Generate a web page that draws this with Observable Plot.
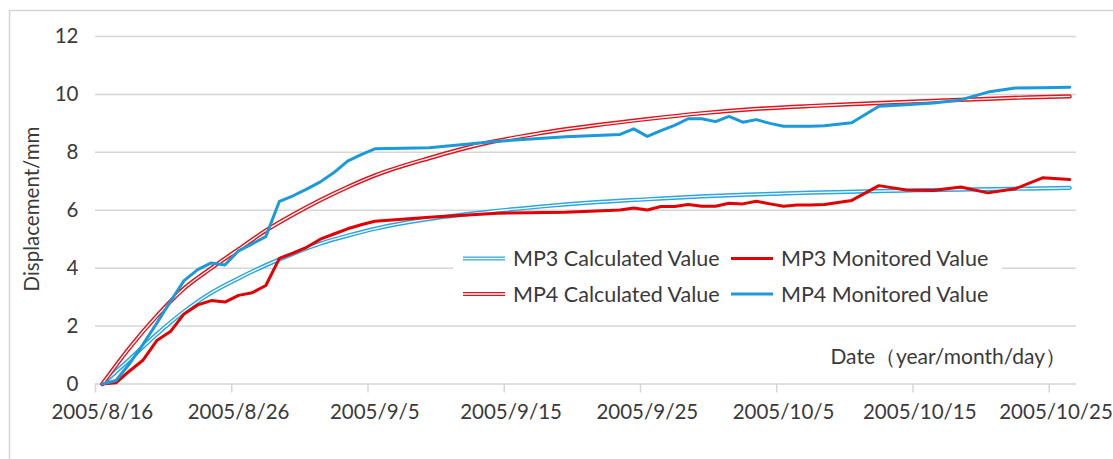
<!DOCTYPE html>
<html><head><meta charset="utf-8">
<script src="https://cdn.jsdelivr.net/npm/d3@7"></script>
<script src="https://cdn.jsdelivr.net/npm/@observablehq/plot@0.6"></script>
<style>body{margin:0;background:#fff;overflow:hidden}svg{font-family:Lato,sans-serif}</style>
</head><body><div id="chart"></div>
<script>
// ---- data ----
const monitoredDates = ["8/16","8/17","8/18","8/19","8/20","8/21","8/22","8/23","8/24","8/25","8/26","8/27","8/28","8/29","8/30","8/31","9/1","9/2","9/3","9/4","9/5",
  "9/9","9/14","9/19","9/23","9/24","9/25","9/26","9/27","9/28","9/29","9/30","10/1","10/2","10/3","10/4","10/5","10/6","10/7","10/8",
  "10/10","10/12","10/14","10/16","10/18","10/20","10/22","10/24","10/26"];
const mp3Monitored = [0,0.04,0.45,0.83,1.5,1.81,2.42,2.73,2.88,2.83,3.06,3.15,3.4,4.34,4.52,4.72,5.0,5.18,5.36,5.5,5.62,
  5.76,5.9,5.93,6.01,6.08,6.01,6.13,6.13,6.2,6.14,6.14,6.24,6.22,6.31,6.22,6.14,6.18,6.18,6.2,
  6.34,6.85,6.7,6.68,6.8,6.6,6.74,7.12,7.06];
const mp4Monitored = [0,0.12,0.7,1.38,2.1,2.85,3.57,3.95,4.18,4.11,4.6,4.84,5.09,6.31,6.5,6.73,6.98,7.3,7.7,7.92,8.12,
  8.16,8.38,8.54,8.62,8.81,8.55,8.75,8.93,9.16,9.16,9.06,9.24,9.04,9.13,9.0,8.9,8.9,8.9,8.92,
  9.02,9.59,9.64,9.7,9.81,10.08,10.22,10.23,10.25];
const calcDates = ["8/16","8/18","8/20","8/22","8/24","8/26","8/28","8/30","9/1","9/3","9/5","9/9","9/13","9/17","9/21","9/25","9/29","10/3","10/7","10/11","10/15","10/19","10/23","10/26"];
const mp3Calculated = [0,0.85,1.72,2.5,3.15,3.65,4.1,4.5,4.85,5.12,5.36,5.7,5.93,6.12,6.27,6.38,6.48,6.55,6.61,6.65,6.69,6.72,6.75,6.77];
const mp4Calculated = [0,1.25,2.35,3.3,4.0,4.65,5.3,5.85,6.35,6.8,7.2,7.8,8.3,8.65,8.92,9.15,9.35,9.5,9.6,9.68,9.76,9.83,9.9,9.93];
const xTickDates = ["8/16","8/26","9/5","9/15","9/25","10/5","10/15","10/25"];
const yTicks = [0,2,4,6,8,10,12];
const seriesNames = ["MP3 Calculated Value","MP3 Monitored Value","MP4 Calculated Value","MP4 Monitored Value"];
const yLabel = "Displacement/mm";
const xLabel = "Date（year/month/day）";
const YEAR = 2005;

// ---- helpers ----
const parse = s => { const [m, d] = s.split("/").map(Number); return new Date(Date.UTC(YEAR, m - 1, d)); };
const HALF = 12 * 3600e3;
const shift = (dt, ms) => new Date(dt.getTime() + ms);
const fmt = dt => `${dt.getUTCFullYear()}/${dt.getUTCMonth() + 1}/${dt.getUTCDate()}`;
const toRows = (dates, vals) => dates.map((d, i) => ({date: parse(d), v: vals[i]}));

const RED = "#e20000", BLUE = "#1a9ad9", BLUE2 = "#2ba6e0", RED2 = "#e0141c";
const TEXT = "#3a3a3a", GRID = "#d6d6d6";

const mp3c = toRows(calcDates, mp3Calculated), mp4c = toRows(calcDates, mp4Calculated);
const mp3m = toRows(monitoredDates, mp3Monitored), mp4m = toRows(monitoredDates, mp4Monitored);

const doubleLine = (data, color) => [
  Plot.line(data, {x: "date", y: "v", curve: "monotone-x", stroke: color, strokeWidth: 4.2}),
  Plot.line(data, {x: "date", y: "v", curve: "monotone-x", stroke: "white", strokeWidth: 1.3})
];
const solidLine = (data, color) => Plot.line(data, {x: "date", y: "v", stroke: color, strokeWidth: 3, strokeLinejoin: "round"});

const plot = Plot.plot({
  width: 1113, height: 459,
  marginLeft: 95, marginRight: 37, marginTop: 36, marginBottom: 75.5,
  style: {fontFamily: "Lato, sans-serif", fontSize: "20.5px", color: TEXT, background: "transparent", overflow: "visible"},
  x: {type: "utc", domain: [shift(parse(calcDates[0]), -HALF), shift(parse(calcDates[calcDates.length - 1]), HALF)]},
  y: {domain: [0, 12]},
  marks: [
    Plot.ruleY(yTicks, {stroke: GRID, strokeWidth: 1.5}),
    Plot.axisY({ticks: yTicks, tickSize: 0, tickPadding: 17, label: null, fill: TEXT}),
    Plot.axisX({ticks: xTickDates.map(d => shift(parse(d), -HALF)), tickSize: 9, tickFormat: () => "", label: null, stroke: GRID, strokeWidth: 1.5, strokeOpacity: 1}),
    Plot.axisX({ticks: xTickDates.map(parse), tickSize: 0, tickPadding: 20, tickFormat: fmt, label: null, fill: TEXT}),
    ...doubleLine(mp3c, BLUE2),
    solidLine(mp3m, RED),
    ...doubleLine(mp4c, RED2),
    solidLine(mp4m, BLUE)
  ]
});

document.getElementById("chart").appendChild(plot);
const svg = d3.select(plot);

// outer chart-area border
svg.insert("rect", ":first-child").attr("x", 9.5).attr("y", 10.5).attr("width", 1120).attr("height", 460)
  .attr("fill", "white").attr("stroke", GRID).attr("stroke-width", 1.5);

// axis titles
svg.append("text").attr("transform", "translate(32,209) rotate(-90)").attr("text-anchor", "middle")
  .attr("dy", "0.35em").attr("fill", TEXT).style("font-size", "20.5px").text(yLabel);
svg.append("text").attr("x", 1066).attr("y", 357).attr("dy", "0.35em").attr("fill", TEXT)
  .attr("text-anchor", "end").style("font-size", "21px").text(xLabel);

// legend
const lg = svg.append("g");
lg.append("rect").attr("x", 453).attr("y", 242).attr("width", 549).attr("height", 70).attr("fill", "white");
const legendItems = [
  {name: seriesNames[0], color: BLUE2, dbl: true, col: 0, row: 0},
  {name: seriesNames[1], color: RED, dbl: false, col: 1, row: 0},
  {name: seriesNames[2], color: RED2, dbl: true, col: 0, row: 1},
  {name: seriesNames[3], color: BLUE, dbl: false, col: 1, row: 1}
];
const colX = [463, 731], rowY = [258.5, 294];
for (const it of legendItems) {
  const x = colX[it.col], y = rowY[it.row];
  lg.append("line").attr("x1", x).attr("x2", x + 42).attr("y1", y).attr("y2", y)
    .attr("stroke", it.color).attr("stroke-width", it.dbl ? 4.2 : 3);
  if (it.dbl) lg.append("line").attr("x1", x).attr("x2", x + 42).attr("y1", y).attr("y2", y)
    .attr("stroke", "white").attr("stroke-width", 1.3);
  lg.append("text").attr("x", x + 50).attr("y", y).attr("dy", "0.35em").attr("fill", TEXT)
    .attr("text-anchor", "start").style("font-size", "21.5px").text(it.name);
}
</script></body></html>
